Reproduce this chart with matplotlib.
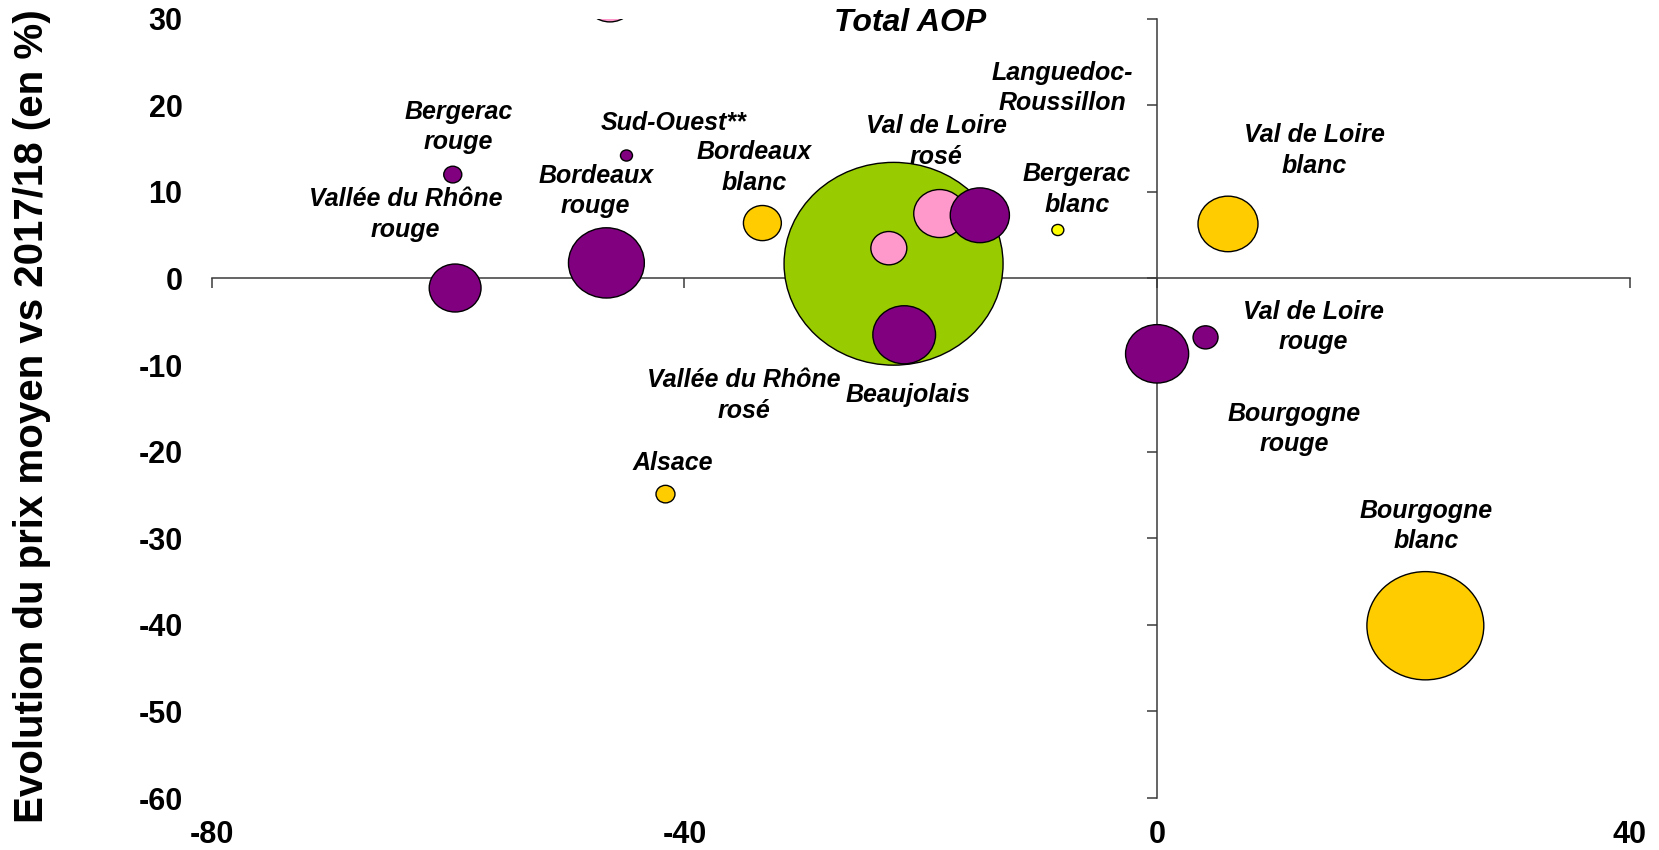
##IMPORTANDO BIBLIOTECAS##

import matplotlib
matplotlib.use('Agg')
import matplotlib.pyplot as plt
from matplotlib.path import Path
from matplotlib.transforms import Affine2D
import numpy as np

plt.rcParams['font.family'] = ['Liberation Sans', 'DejaVu Sans']
plt.rcParams['font.weight'] = 'bold'
plt.rcParams['axes.unicode_minus'] = False

# Bulles : evolution volume (x), evolution prix moyen (y), poids relatif (Total AOP = 100)
noms = ["Total AOP", "Vallée du Rhône rouge", "Bergerac rouge", "Bordeaux rouge",
        "Sud-Ouest**", "rosé (hors cadre)", "Bordeaux blanc", "Vallée du Rhône rosé",
        "Val de Loire rosé", "Languedoc-Roussillon", "Beaujolais", "Bergerac blanc",
        "Val de Loire blanc", "Val de Loire rouge", "Bourgogne rouge", "Alsace",
        "Bourgogne blanc"]
evol_volume = [-22.3, -59.4, -59.6, -46.6, -44.9, -46.3, -33.4, -22.7,
               -18.4, -15.0, -21.4, -8.4, 6.0, 4.1, 0.0, -41.6, 22.7]
evol_prix = [1.7, -1.1, 12.0, 1.8, 14.2, 32.3, 6.4, 3.5,
             7.5, 7.3, -6.5, 5.6, 6.3, -6.8, -8.7, -24.9, -40.1]
poids = [100, 5.6, 0.68, 12.0, 0.3, 5.2, 3.0, 2.7,
         5.6, 7.3, 8.2, 0.3, 7.5, 1.3, 8.3, 0.75, 28.5]
couleurs = ["#99CC00", "#800080", "#800080", "#800080", "#800080", "#FF99CC",
            "#FFCC00", "#FF99CC", "#FF99CC", "#800080", "#800080", "#FFFF00",
            "#FFCC00", "#800080", "#800080", "#FFCC00", "#FFCC00"]

# Etiquettes (texte, x, y) placées comme dans le graphique d'origine
etiquettes = [("Bergerac\nrouge", -59.1, 17.5),
              ("Sud-Ouest**", -40.9, 17.9),
              ("Bordeaux\nrouge", -47.5, 10.1),
              ("Vallée du Rhône\nrouge", -63.6, 7.4),
              ("Bordeaux\nblanc", -34.1, 12.8),
              ("Val de Loire\nrosé", -18.7, 15.8),
              ("Languedoc-\nRoussillon", -8.0, 22.0),
              ("Bergerac\nblanc", -6.8, 10.3),
              ("Val de Loire\nblanc", 13.3, 14.8),
              ("Val de Loire\nrouge", 13.2, -5.6),
              ("Vallée du Rhône\nrosé", -35.0, -13.5),
              ("Beaujolais", -21.1, -13.4),
              ("Bourgogne\nrouge", 11.6, -17.4),
              ("Alsace", -41.0, -21.3),
              ("Bourgogne\nblanc", 22.8, -28.6)]

graduations_x = [-80, -40, 0, 40]
graduations_y = np.arange(-60, 31, 10)
couleur_axe = '#3a3a3a'

fig = plt.figure(figsize=(16.59, 8.5), dpi=100)
ax = fig.add_axes([0.1276, 0.0611, 0.8548, 0.9169])

# bulles legerement ovales comme dans l'original
ellipse = Path.unit_circle().transformed(Affine2D().scale(1.08, 1.0))
echelle = (219 * 72 / 100) ** 2 / 100   # Total AOP = 219 px de large
ax.scatter(evol_volume, evol_prix, s=np.array(poids) * echelle, c=couleurs,
           marker=ellipse, edgecolors='black', linewidths=1.0, zorder=2)

for texte, x, y in etiquettes:
    ax.text(x, y, texte, ha='center', va='center', fontsize=18,
            fontweight='bold', fontstyle='italic', linespacing=1.35,
            multialignment='center', zorder=3)

ax.text(-20.9, 29.5, "Total AOP", ha='center', va='center', fontsize=23,
        fontweight='bold', fontstyle='italic', zorder=3)

ax.set_xlim(-80, 40)
ax.set_ylim(-60, 30)
ax.set_xticks(graduations_x)
ax.set_yticks(graduations_y)
for s in ax.spines.values():
    s.set_visible(False)
ax.tick_params(length=0, labelsize=22)
ax.tick_params(axis='y', pad=21)
ax.tick_params(axis='x', pad=16)

ax.set_ylabel("Evolution du prix moyen vs 2017/18 (en %)", fontsize=29,
              fontweight='bold', va='center')
ax.yaxis.set_label_coords(-0.1268, 0.49)

# axes qui se croisent en (0, 0)
axe_x = ax.secondary_xaxis(0, transform=ax.transData)
axe_x.set_ticks(graduations_x)
axe_x.tick_params(direction='out', length=7, width=1.1, color=couleur_axe,
                  labelbottom=False, labeltop=False)
axe_y = ax.secondary_yaxis(0, transform=ax.transData)
axe_y.set_ticks(graduations_y)
axe_y.tick_params(direction='out', length=7, width=1.1, color=couleur_axe,
                  labelleft=False, labelright=False)
for axe in (axe_x, axe_y):
    for s in axe.spines.values():
        s.set_color(couleur_axe)
        s.set_linewidth(1.1)

plt.savefig("out.png", dpi=100)
